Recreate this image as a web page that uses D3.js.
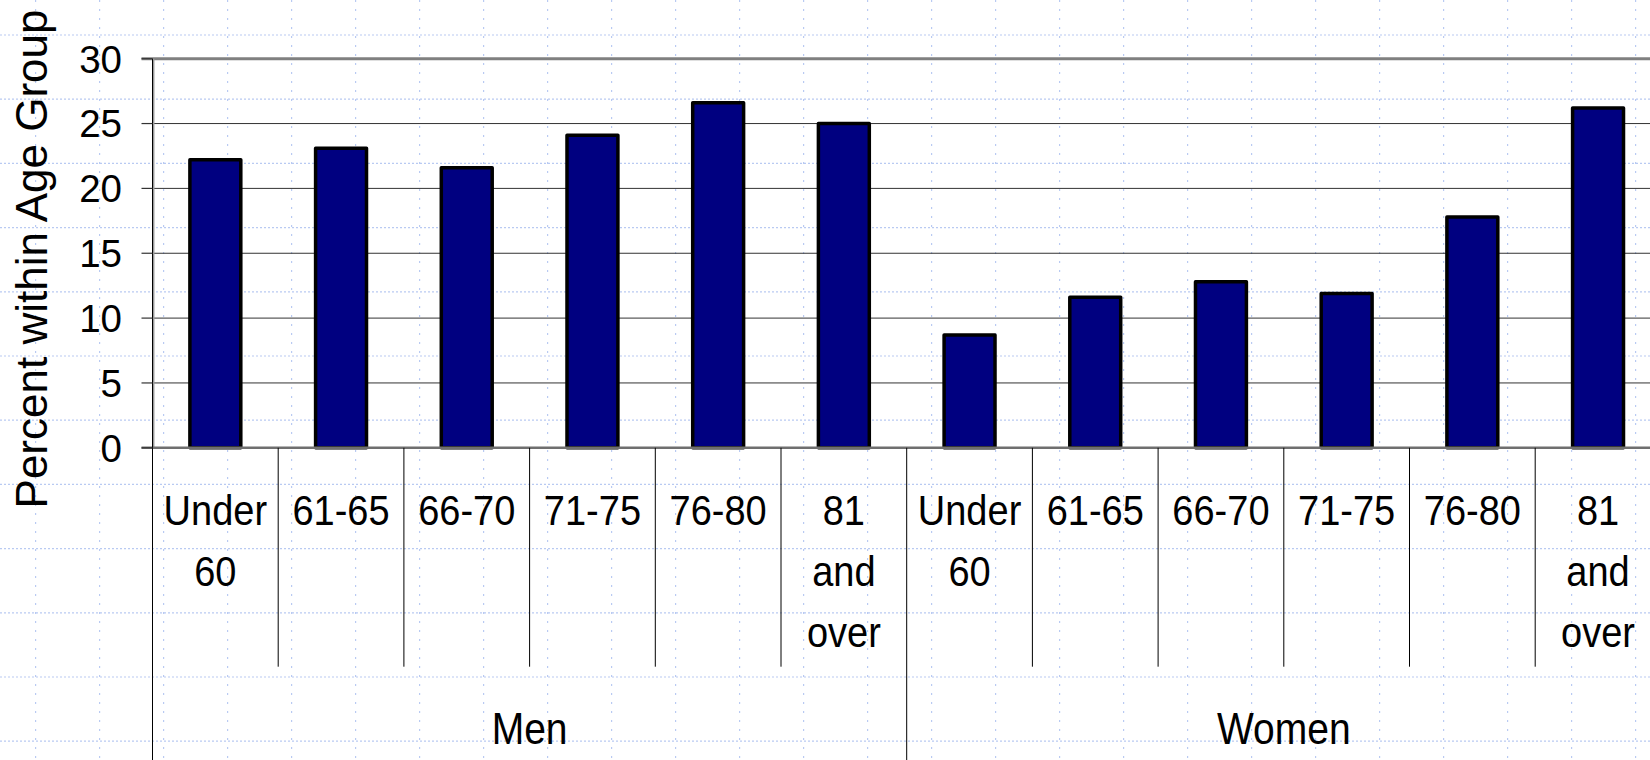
<!DOCTYPE html>
<html>
<head>
<meta charset="utf-8">
<script src="https://cdn.jsdelivr.net/npm/d3@7"></script>
<style>
    body { margin: 0; background: #fff; }
    text { font-family: Arial, "Liberation Sans", sans-serif; fill: #000; }
</style>
</head>
<body>
<div id="chart-area"></div>
<script>
// values
var sexes = ["Men", "Women"];
var ageGroups = ["Under 60", "61-65", "66-70", "71-75", "76-80", "81 and over"];
var ageLabelLines = [["Under", "60"], ["61-65"], ["66-70"], ["71-75"], ["76-80"], ["81", "and", "over"]];
var menValues = [22.2, 23.1, 21.6, 24.1, 26.6, 25.0];
var womenValues = [8.7, 11.6, 12.8, 11.9, 17.8, 26.2];
var yTicks = [0, 5, 10, 15, 20, 25, 30];
var yTitle = "Percent within Age Group";

var width = 1650, height = 760;

var data = [];
sexes.forEach(function(s, si) {
    var vals = si === 0 ? menValues : womenValues;
    ageGroups.forEach(function(a, ai) {
        data.push({ key: s + "|" + a, sex: s, age: a, lines: ageLabelLines[ai], value: vals[ai] });
    });
});

var svg = d3.select("#chart-area").append("svg")
    .attr("width", width)
    .attr("height", height);

// background slide grid (dotted)
var bg = svg.append("g");
d3.range(0, 26).forEach(function(k) {
    bg.append("line")
        .attr("x1", 35.6 + 64 * k).attr("x2", 35.6 + 64 * k)
        .attr("y1", 0).attr("y2", height)
        .attr("stroke", "#b9caf2")
        .attr("stroke-width", 1.2)
        .attr("stroke-dasharray", "2,7");
});
d3.range(0, 12).forEach(function(k) {
    bg.append("line")
        .attr("x1", 0).attr("x2", width)
        .attr("y1", 35 + 64.2 * k).attr("y2", 35 + 64.2 * k)
        .attr("stroke", "#b9caf2")
        .attr("stroke-width", 1.2)
        .attr("stroke-dasharray", "2,2");
});

var plotLeft = 152.5, plotTop = 58.7, plotBottom = 447.8;
var step = 125.7;

var x = d3.scaleBand()
    .domain(data.map(function(d) { return d.key; }))
    .range([plotLeft, plotLeft + step * data.length])
    .padding(0);

var y = d3.scaleLinear()
    .domain([0, 30])
    .range([plotBottom, plotTop]);

var barW = x.bandwidth() * 0.405;

// horizontal gridlines
svg.selectAll(".grid")
    .data(yTicks.filter(function(t) { return t > 0 && t < 30; }))
    .enter()
    .append("line")
    .attr("x1", plotLeft).attr("x2", width)
    .attr("y1", function(d) { return y(d); })
    .attr("y2", function(d) { return y(d); })
    .attr("stroke", "#333")
    .attr("stroke-width", 1);

// plot border top + left (gray)
svg.append("line")
    .attr("x1", 141.5).attr("x2", width)
    .attr("y1", y(30)).attr("y2", y(30))
    .attr("stroke", "#808080").attr("stroke-width", 3);
svg.append("line")
    .attr("x1", plotLeft + 1.2).attr("x2", plotLeft + 1.2)
    .attr("y1", y(30)).attr("y2", plotBottom)
    .attr("stroke", "#999").attr("stroke-width", 1.5);

// bars
svg.selectAll(".bar")
    .data(data)
    .enter()
    .append("rect")
    .attr("x", function(d) { return x(d.key) + (x.bandwidth() - barW) / 2; })
    .attr("y", function(d) { return y(d.value); })
    .attr("width", barW)
    .attr("height", function(d) { return plotBottom - y(d.value); })
    .attr("fill", "#000080")
    .attr("stroke", "#000")
    .attr("stroke-width", 3.5)
    .attr("stroke-linejoin", "round");

// baseline
svg.append("line")
    .attr("x1", 141.5).attr("x2", width)
    .attr("y1", plotBottom).attr("y2", plotBottom)
    .attr("stroke", "#6f6f6f").attr("stroke-width", 2.5);

// y axis line and ticks
svg.append("line")
    .attr("x1", plotLeft).attr("x2", plotLeft)
    .attr("y1", plotTop).attr("y2", height)
    .attr("stroke", "#000").attr("stroke-width", 1);

svg.selectAll(".ytick")
    .data(yTicks)
    .enter()
    .append("line")
    .attr("x1", 141.5).attr("x2", plotLeft)
    .attr("y1", function(d) { return y(d); })
    .attr("y2", function(d) { return y(d); })
    .attr("stroke", "#333")
    .attr("stroke-width", 1.2);

svg.selectAll(".ylabel")
    .data(yTicks)
    .enter()
    .append("text")
    .attr("x", 122)
    .attr("y", function(d) { return y(d); })
    .attr("dy", "0.36em")
    .attr("text-anchor", "end")
    .style("font-size", "38.5px")
    .text(function(d) { return d; });

// y title
svg.append("text")
    .attr("transform", "translate(47," + 259 + ") rotate(-90)")
    .attr("text-anchor", "middle")
    .style("font-size", "44px")
    .text(yTitle);

// category dividers
data.forEach(function(d, i) {
    if (i === 0) return;
    var xx = x(d.key);
    var groupEdge = d.age === ageGroups[0];
    svg.append("line")
        .attr("x1", xx).attr("x2", xx)
        .attr("y1", plotBottom).attr("y2", groupEdge ? height : 666.7)
        .attr("stroke", "#000").attr("stroke-width", 1);
});

// category labels (slightly tall glyphs, like the original)
var sy = 1.1;
var labels = svg.selectAll(".xlabel")
    .data(data)
    .enter()
    .append("text")
    .attr("transform", "scale(1," + sy + ")")
    .attr("text-anchor", "middle")
    .style("font-size", "38px");

labels.selectAll("tspan")
    .data(function(d) {
        return d.lines.map(function(l) { return { text: l, cx: x(d.key) + x.bandwidth() / 2 }; });
    })
    .enter()
    .append("tspan")
    .attr("x", function(d) { return d.cx; })
    .attr("y", function(d, i) { return (525 + i * 60.8) / sy; })
    .text(function(d) { return d.text; });

// group labels
sexes.forEach(function(s) {
    var first = x(s + "|" + ageGroups[0]);
    var last = x(s + "|" + ageGroups[ageGroups.length - 1]) + x.bandwidth();
    svg.append("text")
        .attr("transform", "translate(" + ((first + last) / 2) + ",744) scale(1,1.16)")
        .attr("text-anchor", "middle")
        .style("font-size", "39px")
        .text(s);
});
</script>
</body>
</html>
